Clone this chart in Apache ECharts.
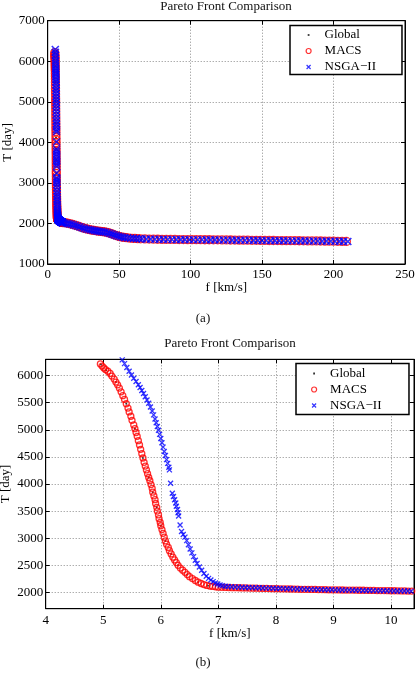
<!DOCTYPE html>
<html>
<head>
<meta charset="utf-8">
<title>Pareto Front Comparison</title>
<script src="https://cdn.jsdelivr.net/npm/echarts@6/dist/echarts.min.js"></script>
<style>
    html, body { margin: 0; padding: 0; background: #fff; }
    #chart { width: 419px; height: 675px; }
</style>
</head>
<body>
<div id="chart"></div>
<script>
// fronts, [f km/s, T day]
const globalFront = [
    [4.96, 6205], [5.05, 6100], [5.22, 5880], [5.40, 5480], [5.55, 5020], [5.69, 4480], [5.79, 4120],
    [5.86, 3850], [5.93, 3570], [6.00, 3230], [6.08, 2950], [6.18, 2710], [6.30, 2500], [6.46, 2330],
    [6.65, 2190], [6.82, 2125], [7.10, 2092], [7.60, 2079], [8.20, 2064], [8.80, 2052], [9.40, 2041],
    [10.0, 2031], [20, 1945], [50, 1680], [100, 1600], [150, 1582], [200, 1562],
];

const macsFront = [
    [4.95, 6215], [4.98, 6175], [5.01, 6140], [5.04, 6110], [5.08, 6080], [5.12, 6040], [5.15, 5990],
    [5.19, 5935], [5.22, 5880], [5.25, 5830], [5.28, 5770], [5.31, 5700], [5.34, 5630], [5.37, 5560],
    [5.40, 5480], [5.43, 5400], [5.45, 5330], [5.48, 5250], [5.50, 5175], [5.53, 5090], [5.55, 5020],
    [5.57, 4950], [5.59, 4880], [5.61, 4800], [5.63, 4720], [5.65, 4640], [5.67, 4560], [5.69, 4480],
    [5.71, 4400], [5.73, 4330], [5.75, 4260], [5.77, 4190], [5.79, 4120], [5.81, 4060], [5.83, 3990],
    [5.85, 3920], [5.86, 3850], [5.88, 3780], [5.90, 3710], [5.91, 3640], [5.93, 3570], [5.94, 3500],
    [5.96, 3430], [5.97, 3360], [5.99, 3290], [6.00, 3230], [6.02, 3160], [6.04, 3090], [6.06, 3020],
    [6.08, 2950], [6.10, 2890], [6.13, 2830], [6.15, 2770], [6.18, 2710], [6.21, 2650], [6.24, 2600],
    [6.27, 2550], [6.30, 2500], [6.34, 2450], [6.38, 2410], [6.42, 2370], [6.46, 2330], [6.50, 2290],
    [6.55, 2255], [6.60, 2220], [6.65, 2190], [6.70, 2165], [6.75, 2145], [6.80, 2130], [6.85, 2118],
    [6.90, 2110], [6.95, 2103], [7.00, 2097], [7.06, 2095], [7.12, 2092], [7.18, 2091], [7.24, 2088],
    [7.30, 2087], [7.36, 2086], [7.42, 2083], [7.48, 2083], [7.54, 2080], [7.60, 2079], [7.66, 2078],
    [7.72, 2075], [7.78, 2074], [7.84, 2074], [7.90, 2071], [7.96, 2070], [8.02, 2069], [8.08, 2066],
    [8.14, 2066], [8.20, 2064], [8.26, 2063], [8.32, 2062], [8.38, 2061], [8.44, 2058], [8.50, 2058],
    [8.56, 2057], [8.62, 2055], [8.68, 2055], [8.74, 2052], [8.80, 2052], [8.86, 2051], [8.92, 2049],
    [8.98, 2048], [9.04, 2048], [9.10, 2046], [9.16, 2045], [9.22, 2044], [9.28, 2043], [9.34, 2043],
    [9.40, 2041], [9.46, 2040], [9.52, 2040], [9.58, 2038], [9.64, 2037], [9.70, 2037], [9.76, 2035],
    [9.82, 2034], [9.88, 2034], [9.94, 2032], [10.00, 2031], [10.06, 2031], [10.12, 2029], [10.18, 2028],
    [10.24, 2028], [10.30, 2026], [10.36, 2026], [10.42, 2024],
    [11.5, 2020], [13, 2012], [14.5, 2000], [16, 1988], [17.5, 1975], [19, 1958], [20.5, 1942],
    [22, 1925], [23.5, 1905], [25, 1888], [26.5, 1872], [28, 1858], [29.5, 1846], [31, 1836],
    [32.5, 1828], [34, 1818], [35.5, 1810], [37, 1804], [38.5, 1798], [40, 1790], [41.5, 1780],
    [43, 1765], [44.5, 1748], [46, 1728], [47.5, 1708], [49, 1690], [50.5, 1676], [52, 1665],
    [53.5, 1656], [55, 1648], [57, 1640], [59, 1634], [61, 1630], [63, 1626], [65, 1622], [68, 1618],
    [71, 1615], [74, 1613], [77, 1610], [80, 1608], [83, 1607], [86, 1605], [89, 1605], [92, 1603],
    [95, 1603], [98, 1601], [101, 1601], [104, 1600], [107, 1600], [110, 1598], [113, 1598], [116, 1596],
    [119, 1596], [122, 1594], [125, 1593], [128, 1592], [131, 1591], [134, 1589], [137, 1588], [140, 1587],
    [143, 1585], [146, 1584], [149, 1583], [152, 1581], [155, 1580], [158, 1580], [161, 1578], [164, 1577],
    [167, 1576], [170, 1575], [173, 1574], [176, 1573], [179, 1572], [182, 1570], [185, 1569], [188, 1568],
    [191, 1567], [194, 1565], [197, 1564], [200, 1562], [203, 1560], [206, 1558], [209, 1556],
];

const nsgaFront = [
    [5.33, 6290], [5.37, 6220], [5.41, 6150], [5.45, 6080], [5.49, 6010], [5.53, 5950], [5.57, 5890],
    [5.61, 5830], [5.64, 5780], [5.67, 5725], [5.70, 5670], [5.73, 5610], [5.76, 5550], [5.79, 5490],
    [5.82, 5420], [5.85, 5345], [5.875, 5275], [5.90, 5200], [5.92, 5130], [5.94, 5060], [5.96, 4990],
    [5.98, 4915], [6.00, 4840], [6.02, 4760], [6.04, 4680], [6.06, 4600], [6.08, 4525], [6.10, 4450],
    [6.12, 4380], [6.14, 4310], [6.15, 4260], [6.17, 4015], [6.20, 3830], [6.22, 3770], [6.24, 3710],
    [6.26, 3650], [6.27, 3590], [6.29, 3530], [6.30, 3470], [6.31, 3410], [6.335, 3245], [6.36, 3125],
    [6.39, 3070], [6.42, 3020], [6.45, 2955], [6.48, 2880], [6.51, 2800], [6.54, 2730], [6.57, 2660],
    [6.60, 2595], [6.63, 2535], [6.67, 2470], [6.71, 2410], [6.75, 2350], [6.79, 2300], [6.83, 2260],
    [6.87, 2230], [6.91, 2200], [6.95, 2175], [6.99, 2155], [7.03, 2138], [7.07, 2125], [7.12, 2115],
    [7.17, 2108], [7.23, 2104], [7.29, 2100], [7.35, 2098], [7.41, 2095], [7.47, 2092], [7.53, 2091],
    [7.59, 2088], [7.65, 2086], [7.71, 2085], [7.77, 2082], [7.83, 2080], [7.89, 2079], [7.95, 2076],
    [8.01, 2074], [8.07, 2073], [8.13, 2070], [8.19, 2068], [8.25, 2067], [8.31, 2066], [8.37, 2063],
    [8.43, 2062], [8.49, 2061], [8.55, 2058], [8.61, 2057], [8.67, 2056], [8.73, 2054], [8.79, 2052],
    [8.85, 2051], [8.91, 2050], [8.97, 2048], [9.03, 2047], [9.09, 2046], [9.15, 2044], [9.21, 2043],
    [9.27, 2042], [9.33, 2041], [9.39, 2039], [9.45, 2038], [9.51, 2037], [9.57, 2036], [9.63, 2035],
    [9.69, 2034], [9.75, 2033], [9.81, 2032], [9.87, 2031], [9.93, 2030], [9.99, 2029], [10.05, 2028],
    [10.11, 2027], [10.17, 2026], [10.23, 2025], [10.29, 2025], [10.35, 2023], [10.41, 2022],
    [12, 2010], [13.5, 2002], [15, 1990], [16.5, 1980], [18, 1965], [19.5, 1948], [21, 1932],
    [22.5, 1914], [24, 1895], [25.5, 1880], [27, 1864], [28.5, 1850], [30, 1840], [31.5, 1831],
    [33, 1822], [34.5, 1812], [36, 1805], [37.5, 1798], [39, 1792], [40.5, 1784], [42, 1772],
    [43.5, 1756], [45, 1738], [46.5, 1718], [48, 1700], [49.5, 1684], [51, 1671], [52.5, 1660],
    [54, 1651], [56, 1643], [58, 1636], [60, 1631], [62, 1627], [64, 1623], [66, 1619], [69, 1615],
    [72, 1612], [75, 1610], [78, 1607], [81, 1606], [84, 1604], [87, 1603], [90, 1602], [93, 1601],
    [96, 1600], [99, 1599], [102, 1598], [105, 1598], [108, 1597], [111, 1596], [114, 1595], [117, 1594],
    [120, 1593], [123, 1592], [126, 1591], [129, 1590], [132, 1588], [135, 1587], [138, 1586], [141, 1585],
    [144, 1583], [147, 1582], [150, 1581], [153, 1580], [156, 1578], [159, 1577], [162, 1576], [165, 1575],
    [168, 1574], [171, 1573], [174, 1572], [177, 1571], [180, 1569], [183, 1568], [186, 1567], [189, 1566],
    [192, 1564], [195, 1563], [198, 1562], [201, 1560], [204, 1558], [207, 1557], [210, 1555],
];

// tick labels of the zoomed panel (b)
const zoomTicksF = [4, 5, 6, 7, 8, 9, 10];
const zoomTicksT = [2000, 2500, 3000, 3500, 4000, 4500, 5000, 5500, 6000];

const seriesNames = ['Global', 'MACS', 'NSGA\u2212II'];

const FONT = 'Liberation Serif';
const chart = echarts.init(document.getElementById('chart'));

function makeAxis(dim, opts) {
    const ticks = opts.ticks;
    const axis = {
        type: 'value',
        gridIndex: opts.grid,
        position: opts.position,
        min: opts.min,
        max: opts.max,
        interval: opts.interval,
        name: opts.name || '',
        nameLocation: 'middle',
        nameGap: opts.nameGap,
        nameMoveOverlap: false,
        nameTextStyle: {fontFamily: FONT, fontSize: 13, color: '#000'},
        axisLine: {show: true, onZero: false, lineStyle: {color: '#000', width: 1}},
        axisTick: {show: true, inside: true, length: 4, lineStyle: {color: '#000'}},
        axisLabel: {
            show: !opts.mirror,
            margin: opts.margin,
            fontFamily: FONT,
            fontSize: 13,
            color: '#000',
            // plain numbers, no thousands separator
            formatter: (v) => String(v),
        },
        splitLine: {
            show: !opts.mirror,
            lineStyle: {color: '#8a8a8a', type: [1, 2], width: 1},
        },
    };
    if (ticks) {
        axis.axisTick.customValues = ticks;
        axis.axisLabel.customValues = ticks;
    }
    return axis;
}

function makeSeries(idx, big) {
    return [
        {
            name: seriesNames[0], type: 'scatter', xAxisIndex: idx, yAxisIndex: idx,
            data: globalFront, symbol: 'circle', symbolSize: 2,
            itemStyle: {color: '#000'},
        },
        {
            name: seriesNames[1], type: 'scatter', xAxisIndex: idx, yAxisIndex: idx,
            data: macsFront, symbol: 'circle', symbolSize: big ? 8 : 6,
            itemStyle: {color: 'transparent', borderColor: '#ff0000', borderWidth: 1.3},
        },
        {
            name: seriesNames[2], type: 'scatter', xAxisIndex: idx, yAxisIndex: idx,
            data: nsgaFront, symbol: 'path://M0,0L10,10M10,0L0,10', symbolSize: big ? 7 : 5,
            symbolKeepAspect: true,
            itemStyle: {color: 'transparent', borderColor: '#0000ff', borderWidth: big ? 1.6 : 1.3},
        },
    ];
}

function makeLegend(left, top, padding) {
    return {
        orient: 'vertical',
        left: left,
        top: top,
        padding: padding,
        itemGap: 2,
        itemWidth: 22,
        itemHeight: 5,
        backgroundColor: '#fff',
        borderColor: '#000',
        borderWidth: 1.5,
        borderRadius: 0,
        selectedMode: false,
        textStyle: {fontFamily: FONT, fontSize: 13, color: '#000', lineHeight: 14},
        data: [
            {
                name: seriesNames[0],
                icon: 'path://M0,0L0,0M10.1,1.6h1.8v1.8h-1.8zM22,5L22,5',
                itemStyle: {color: '#000', borderWidth: 0},
            },
            {
                name: seriesNames[1],
                icon: 'circle',
                itemStyle: {color: 'transparent', borderColor: '#ff0000', borderWidth: 1.2},
            },
            {
                name: seriesNames[2],
                icon: 'path://M0,0L0,0M9,0.5L13,4.5M13,0.5L9,4.5M22,5L22,5',
                itemStyle: {color: 'transparent', borderColor: '#0000ff', borderWidth: 1.2},
            },
        ],
    };
}

function makeTitle(text, x, top) {
    return {
        text: text,
        left: x,
        top: top,
        textAlign: 'center',
        padding: 0,
        textStyle: {fontFamily: FONT, fontSize: 13, fontWeight: 'normal', color: '#111'},
    };
}

const option = {
    backgroundColor: '#fff',
    animation: false,
    title: [
        makeTitle('Pareto Front Comparison', 226, 0.5),
        makeTitle('(a)', 203, 312.5),
        makeTitle('Pareto Front Comparison', 230, 337.5),
        makeTitle('(b)', 203, 656.5),
    ],
    legend: [
        makeLegend(290, 25.5, [2.5, 26, 0.5, 7]),
        makeLegend(296, 363.5, [3, 27.5, 2, 6.5]),
    ],
    grid: [
        {
            left: 47.7, top: 20.7, width: 357.3, height: 243.3,
            outerBoundsMode: 'none', containLabel: false,
            show: true, borderColor: '#000', borderWidth: 1,
        },
        {
            left: 45.7, top: 359.3, width: 368.3, height: 249.4,
            outerBoundsMode: 'none', containLabel: false,
            show: true, borderColor: '#000', borderWidth: 1,
        },
    ],
    xAxis: [
        makeAxis('x', {grid: 0, position: 'bottom', min: 0, max: 250, interval: 50, name: 'f [km/s]', nameGap: 17.5, margin: 4.5}),
        makeAxis('x', {grid: 0, position: 'top', min: 0, max: 250, interval: 50, mirror: true}),
        makeAxis('x', {grid: 1, position: 'bottom', min: 4, max: 10.4, ticks: zoomTicksF, name: 'f [km/s]', nameGap: 18, margin: 5}),
        makeAxis('x', {grid: 1, position: 'top', min: 4, max: 10.4, ticks: zoomTicksF, mirror: true}),
    ],
    yAxis: [
        makeAxis('y', {grid: 0, position: 'left', min: 1000, max: 7000, interval: 1000, name: 'T [day]', nameGap: 34, margin: 3}),
        makeAxis('y', {grid: 0, position: 'right', min: 1000, max: 7000, interval: 1000, mirror: true}),
        makeAxis('y', {grid: 1, position: 'left', min: 1700, max: 6300, ticks: zoomTicksT, name: 'T [day]', nameGap: 34, margin: 2.5}),
        makeAxis('y', {grid: 1, position: 'right', min: 1700, max: 6300, ticks: zoomTicksT, mirror: true}),
    ],
    series: makeSeries(0, true).concat(makeSeries(2, false)),
};

chart.setOption(option);
</script>
</body>
</html>
